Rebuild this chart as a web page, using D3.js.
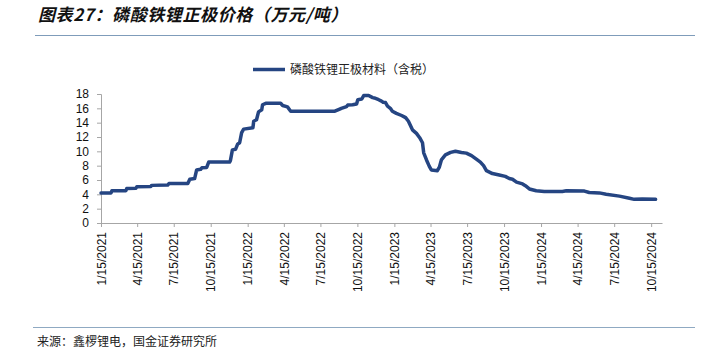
<!DOCTYPE html>
<html>
<head>
<meta charset="utf-8">
<script src="https://cdn.jsdelivr.net/npm/d3@7"></script>
<style>
  html, body { margin: 0; padding: 0; background: #fff; }
  svg { display: block; }
</style>
</head>
<body>
<svg id="chart" width="702" height="357"></svg>
<script>
const titleText = "图表27：磷酸铁锂正极价格（万元/吨）";
const seriesName = "磷酸铁锂正极材料（含税）";
const sourceText = "来源：鑫椤锂电，国金证券研究所";

const dates = [
  "2021-01-15","2021-02-09","2021-02-11","2021-03-18","2021-03-20","2021-04-12","2021-04-14",
  "2021-05-19","2021-05-21","2021-06-30","2021-07-03","2021-08-19","2021-08-24","2021-09-05",
  "2021-09-10","2021-09-20","2021-09-23","2021-10-05","2021-10-10","2021-12-01","2021-12-03",
  "2021-12-08","2021-12-16","2021-12-21","2021-12-26","2021-12-31","2022-01-05","2022-01-28",
  "2022-01-30","2022-02-06","2022-02-11","2022-02-19","2022-02-21","2022-03-01","2022-04-07",
  "2022-04-12","2022-04-24","2022-05-02","2022-08-20","2022-09-01","2022-09-05","2022-09-18",
  "2022-09-21","2022-10-03","2022-10-13","2022-10-16","2022-10-26","2022-10-31","2022-11-12",
  "2022-11-22","2022-11-26","2022-12-07","2022-12-14","2022-12-18","2022-12-24","2022-12-29",
  "2023-01-05","2023-01-10","2023-01-20","2023-02-02","2023-02-12","2023-02-19","2023-03-01",
  "2023-03-11","2023-03-19","2023-03-26","2023-03-29","2023-04-05","2023-04-12","2023-04-17",
  "2023-05-02","2023-05-07","2023-05-12","2023-05-22","2023-06-04","2023-06-16","2023-07-01",
  "2023-07-13","2023-07-26","2023-08-07","2023-08-17","2023-08-25","2023-09-01","2023-09-16",
  "2023-10-03","2023-10-18","2023-10-28","2023-11-05","2023-11-15","2023-11-30","2023-12-07",
  "2023-12-17","2024-01-03","2024-01-23","2024-03-08","2024-03-18","2024-05-02","2024-05-14",
  "2024-06-08","2024-06-25","2024-07-28","2024-08-22","2024-09-03","2024-09-23","2024-10-26"
];
const prices = [
  4.2,4.2,4.5,4.5,4.8,4.85,5.05,
  5.1,5.25,5.3,5.5,5.5,6.1,6.2,
  7.4,7.5,7.7,7.75,8.5,8.5,8.7,
  10.2,10.3,11.0,11.2,12.6,13.1,13.3,
  14.2,14.4,15.5,15.8,16.5,16.7,16.7,
  16.4,16.2,15.6,15.6,15.9,16.0,16.25,
  16.45,16.5,16.6,17.2,17.3,17.8,17.8,
  17.5,17.45,17.2,17.0,16.85,16.8,16.3,
  16.0,15.6,15.3,15.0,14.7,14.2,13.0,
  12.5,11.9,11.2,9.8,8.8,7.9,7.4,
  7.3,7.8,8.8,9.5,9.85,10.0,9.85,
  9.75,9.4,8.9,8.5,8.0,7.3,6.9,
  6.7,6.5,6.2,6.1,5.7,5.45,5.2,
  4.75,4.5,4.4,4.4,4.5,4.45,4.25,
  4.2,4.0,3.75,3.45,3.3,3.35,3.3
];
const xTickLabels = [
  "1/15/2021","4/15/2021","7/15/2021","10/15/2021",
  "1/15/2022","4/15/2022","7/15/2022","10/15/2022",
  "1/15/2023","4/15/2023","7/15/2023","10/15/2023",
  "1/15/2024","4/15/2024","7/15/2024","10/15/2024"
];
const yTicks = [0,2,4,6,8,10,12,14,16,18];

const parse = d3.timeParse("%Y-%m-%d");
const parseTick = d3.timeParse("%m/%d/%Y");
const data = dates.map((d, i) => ({ date: parse(d), value: prices[i] }));
const tickDates = xTickLabels.map(s => parseTick(s));

const svg = d3.select("#chart");
const axisColor = "#a6a6a6";
const lineColor = "#254582";

const x = d3.scaleTime()
  .domain([parse("2021-01-15"), parse("2024-11-11")])
  .range([101, 662]);
const y = d3.scaleLinear().domain([0, 18]).range([223, 94]);

// Title
svg.append("text")
  .attr("x", 38).attr("y", 21)
  .attr("font-family", "'Noto Sans CJK SC', sans-serif")
  .attr("font-size", 17).attr("font-weight", "bold").attr("font-style", "italic")
  .attr("letter-spacing", 0.6)
  .attr("fill", "#111")
  .text(titleText);
svg.append("line")
  .attr("x1", 35).attr("x2", 695).attr("y1", 35.5).attr("y2", 35.5)
  .attr("stroke", "#7f9cba").attr("stroke-width", 1);

// Legend
svg.append("line")
  .attr("x1", 253).attr("x2", 285).attr("y1", 69.5).attr("y2", 69.5)
  .attr("stroke", lineColor).attr("stroke-width", 3.5);
svg.append("text")
  .attr("x", 290).attr("y", 74)
  .attr("font-family", "'Noto Sans CJK SC', sans-serif")
  .attr("font-size", 12).attr("fill", "#222")
  .text(seriesName);

// Y axis
const yAxis = d3.axisLeft(y).tickValues(yTicks).tickSize(4).tickPadding(8);
const gy = svg.append("g").attr("transform", "translate(101,0)").call(yAxis);
gy.select(".domain").attr("stroke", axisColor);
gy.selectAll(".tick line").attr("stroke", axisColor);
gy.selectAll(".tick text")
  .attr("font-family", "'Liberation Sans', Arial, sans-serif")
  .attr("font-size", 12).attr("fill", "#111");

// X axis
const xAxis = d3.axisBottom(x).tickValues(tickDates).tickSize(4).tickSizeOuter(0)
  .tickFormat((d, i) => xTickLabels[i]);
const gx = svg.append("g").attr("transform", "translate(0,223)").call(xAxis);
gx.select(".domain").attr("stroke", axisColor);
gx.selectAll(".tick line").attr("stroke", axisColor);
gx.selectAll(".tick text")
  .attr("font-family", "'Liberation Sans', Arial, sans-serif")
  .attr("font-size", 12).attr("fill", "#111")
  .attr("text-anchor", "end")
  .attr("transform", "rotate(-90)")
  .attr("x", -9).attr("y", 0).attr("dy", "0.35em");

// Line
const line = d3.line().x(d => x(d.date)).y(d => y(d.value));
svg.append("path")
  .datum(data)
  .attr("d", line)
  .attr("fill", "none")
  .attr("stroke", lineColor)
  .attr("stroke-width", 3.5)
  .attr("stroke-linejoin", "round")
  .attr("stroke-linecap", "round");

// Footer
svg.append("line")
  .attr("x1", 33).attr("x2", 695).attr("y1", 327.5).attr("y2", 327.5)
  .attr("stroke", "#8fa9c2").attr("stroke-width", 1);
svg.append("text")
  .attr("x", 37).attr("y", 346)
  .attr("font-family", "'Noto Sans CJK SC', sans-serif")
  .attr("font-size", 12).attr("fill", "#222")
  .text(sourceText);
</script>
</body>
</html>
